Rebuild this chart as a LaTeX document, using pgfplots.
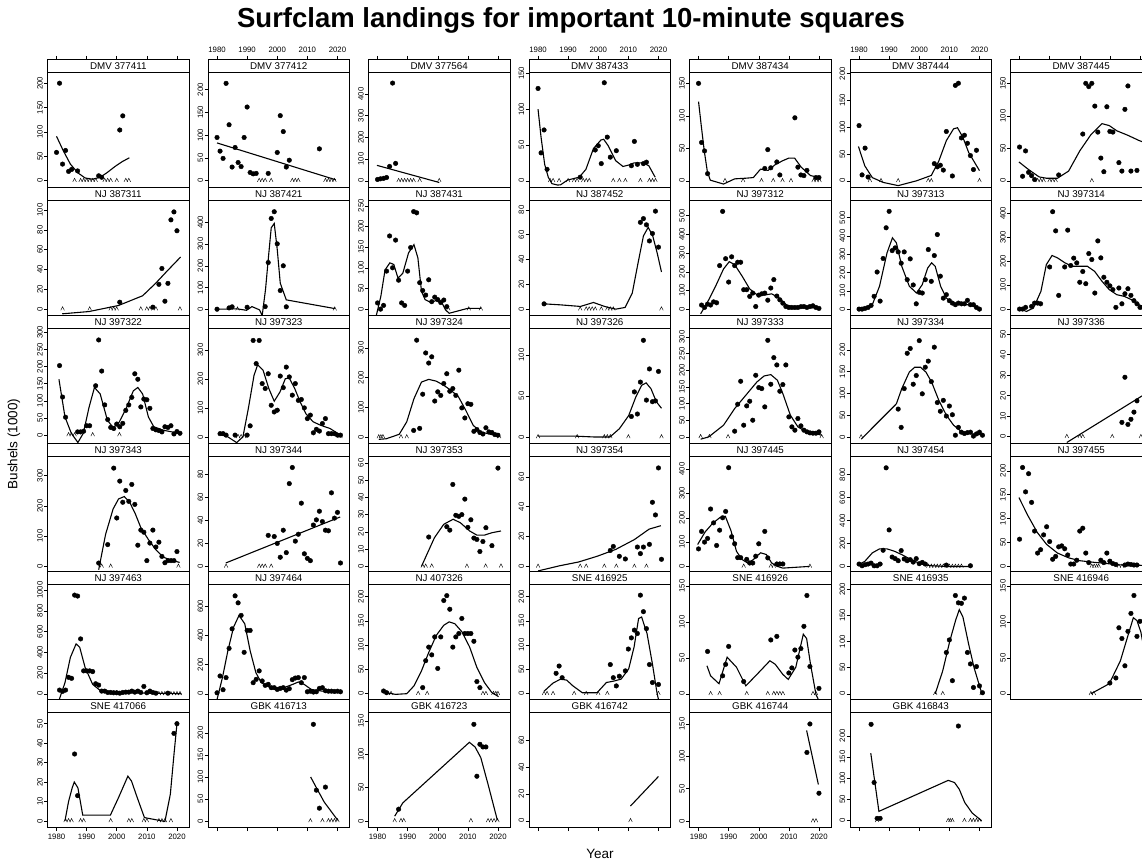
\documentclass[border=0pt]{standalone}
\usepackage{fontspec}
\setmainfont{Liberation Sans}
\usepackage{pgfplots}
\pgfplotsset{compat=1.18}
\pgfdeclareplotmark{caret}{\pgfpathmoveto{\pgfqpoint{-1.8pt}{-1.2pt}}\pgfpathlineto{\pgfqpoint{0pt}{2.4pt}}\pgfpathlineto{\pgfqpoint{1.8pt}{-1.2pt}}\pgfusepathqstroke}
\newcommand\tk{\fontsize{7.8}{9}\selectfont}
\newcommand\stf{\fontsize{9.8}{11}\selectfont}
\newcommand\pos[2]{\pgfmathsetmacro\px{47.5+160.5*(#1-1)}\pgfmathsetmacro\py{-(72+128*(#2-1))}\pgfmathsetmacro\sy{-(59.5+128*(#2-1))}}
\pgfplotsset{
 base/.style={scale only axis, width=141.5pt, xmin=1977, xmax=2024, anchor=north west,
   axis line style={line width=0.6pt}, tick style={line width=0.5pt, black}, major tick length=3.5pt,
   tick align=outside, scaled ticks=false, /pgf/number format/assume math mode=true,
   /pgf/number format/set thousands separator={}, tick label style={font=\tk}, xtick=\empty, ytick=\empty},
 pan/.style={base, height=115.5pt, at={(\px pt,\py pt)}, ytick pos=left, yticklabel style={rotate=90, anchor=south, inner sep=1pt}},
 strip/.style={base, height=12.5pt, at={(\px pt,\sy pt)}, ymin=0, ymax=1},
 xb/.style={xtick={1980,1990,2000,2010,2020}, xtick pos=left, xticklabel pos=left},
 xbn/.style={xb, xticklabels={}},
 xt/.style={xtick={1980,1990,2000,2010,2020}, xtick pos=right, xticklabel pos=right},
 xtn/.style={xt, xticklabels={}},
 pts/.style={only marks, mark=*, mark size=2.3pt, black},
 fit/.style={black, line width=1.1pt, mark=none},
 car/.style={only marks, mark=caret, black, mark options={line width=0.45pt}},
}
\newcommand\strip[4]{\pos{#1}{#2}\begin{axis}[strip,#4]\node[font=\stf,inner sep=0pt] at (rel axis cs:0.5,0.5) {#3};\end{axis}}
\begin{document}
\begin{tikzpicture}
\path[use as bounding box] (0pt,0pt) rectangle (1142pt,-864pt);
\clip (0pt,0pt) rectangle (1142pt,-864pt);
\node[font=\fontsize{27.5}{30}\selectfont\bfseries] at (571pt,-20pt) {Surfclam landings for important 10-minute squares};
\node[rotate=90,font=\fontsize{13.5}{15}\selectfont] at (14pt,-444pt) {Bushels (1000)};
\node[font=\fontsize{13.5}{15}\selectfont] at (600pt,-854pt) {Year};
% ---------- row 1
\pos{1}{1}
\begin{axis}[pan,ymin=-14,ymax=223,ytick={0,50,100,150,200}]
\addplot[fit] coordinates {(1980,91)(1982.2,62)(1984.6,34)(1987.1,16)(1989.5,5.5)(1992,3)(1994.5,7)(1996.9,17)(1999.4,29)(2001.8,39)(2004.2,47)};
\addplot[pts] coordinates {(1980,58)(1981,200)(1982,34)(1983,62)(1984,19)(1985,23)(1987,20)(1994,10)(1995,7)(2001,104)(2002,133)};
\addplot[car] coordinates {(1986,0)(1988,0)(1989,0)(1990,0)(1991,0)(1992,0)(1993,0)(1996,0)(1997,0)(1998,0)(2000,0)(2003,0)(2004,0)};
\end{axis}
\strip{1}{1}{DMV 377411}{xtn}
\pos{2}{1}
\begin{axis}[pan,ymin=-15,ymax=239,ytick={0,50,100,150,200}]
\addplot[fit] coordinates {(1980,83)(2019.4,2)};
\addplot[pts] coordinates {(1980,95)(1981,65)(1982,49)(1983,214)(1984,123)(1985,30)(1986,73)(1987,40)(1988,31)(1989,95)(1990,162)(1991,18)(1992,15)(1993,16)(1997,16)(2000,62)(2001,143)(2002,108)(2003,30)(2004,45)(2014,70)};
\addplot[car] coordinates {(1994,0)(1995,0)(1996,0)(1998,0)(2005,0)(2006,0)(2007,0)(2016,0)(2017,0)(2018,0)(2019,0)};
\end{axis}
\strip{2}{1}{DMV 377412}{xt}
\pos{3}{1}
\begin{axis}[pan,ymin=-31,ymax=501,ytick={0,100,200,300,400}]
\addplot[fit] coordinates {(1979.8,71)(2000.5,-8)};
\addplot[pts] coordinates {(1980,6)(1981,9)(1982,11)(1983,15)(1984,66)(1985,450)(1986,80)};
\addplot[car] coordinates {(1987,0)(1988,0)(1989,0)(1990,0)(1991,0)(1992,0)(1994,0)(2000.5,0)};
\end{axis}
\strip{3}{1}{DMV 377564}{xtn}
\pos{4}{1}
\begin{axis}[pan,ymin=-9.4,ymax=152,ytick={0,50,100,150}]
\addplot[fit] coordinates {(1980,100)(1981,61)(1982.2,23)(1983.4,5)(1984.6,-4)(1986.5,-6)(1987.5,-5.6)(1989.8,1)(1993.7,5)(1995.9,16)(1998.4,45)(2000.9,57)(2001.8,58)(2003.3,49)(2005.8,28)(2008.2,20)(2010.1,22)(2011.9,25)(2015,25)(2016.8,21)(2018.9,5)};
\addplot[pts] coordinates {(1980,129)(1981,39)(1982,71)(1983,16)(1994,5)(1999,43)(2000,49)(2001,24)(2002,137)(2003,61)(2004,33)(2006,42)(2011,21)(2012,55)(2013,23)(2015,24)(2016,26)};
\addplot[car] coordinates {(1984,0)(1985,0)(1987,0)(1990,0)(1992,0)(1993,0)(1995,0)(1996,0)(1997,0)(2005,0)(2007,0)(2009,0)(2014,0)(2017,0)(2018,0)(2019,0)};
\end{axis}
\strip{4}{1}{DMV 387433}{xt}
\pos{5}{1}
\begin{axis}[pan,ymin=-10.3,ymax=167.5,ytick={0,50,100,150}]
\addplot[fit] coordinates {(1980,122)(1980.9,85)(1981.9,46)(1982.9,15)(1983.9,1)(1988.3,-5)(1992,3)(1995.7,4)(1998.2,5)(2000.6,18)(2003.1,16)(2005.5,25)(2008,31)(2010,35)(2011.9,35)(2014.1,21)(2017.2,8)(2020.3,5)};
\addplot[pts] coordinates {(1980,150)(1981,59)(1982,46)(1983,11)(2002,19)(2003,48)(2004,20)(2006,29)(2007,9)(2012,97)(2013,21)(2014,9)(2015,8)(2016,16)(2019,5)(2020,5)};
\addplot[car] coordinates {(1988.8,0)(1994.8,0)(2000.9,0)(2004.8,0)(2007.9,0)(2010.7,0)(2018.2,0)(2019.2,0)(2020.2,0)};
\end{axis}
\strip{5}{1}{DMV 387434}{xtn}
\pos{6}{1}
\begin{axis}[pan,ymin=-12.5,ymax=203,ytick={0,50,100,150,200}]
\addplot[fit] coordinates {(1979.8,64)(1981.9,28)(1984.4,6)(1988,-3)(1993,-9)(1999.1,0)(2004,10)(2006.5,37)(2009,75)(2011.4,97)(2012.7,99)(2014.5,81)(2016.4,53)(2020,19)};
\addplot[pts] coordinates {(1980,103)(1981,11)(1982,61)(1983,7)(2005,32)(2006,26)(2007,29)(2008,20)(2009,92)(2011,9)(2012,178)(2013,182)(2014,80)(2015,85)(2016,70)(2017,47)(2018,21)(2019,57)};
\addplot[car] coordinates {(1983.6,0)(1987.3,0)(1993,0)(2003,0)(2004,0)(2020,0)};
\end{axis}
\strip{6}{1}{DMV 387444}{xt}
\pos{7}{1}
\begin{axis}[pan,ymin=-10.3,ymax=167.5,ytick={0,50,100,150}]
\addplot[fit] coordinates {(1979.8,29)(1982.8,18)(1986.5,6)(1988.9,4)(1992.6,4)(1996.3,15)(2000,46)(2003.7,71)(2007.4,88)(2009.8,85)(2012.3,77)(2016,70)(2019.7,62)(2022,58)};
\addplot[pts] coordinates {(1980,52)(1981,7)(1982,46)(1983,13)(1984,8)(1985,2)(1993,9)(2001,72)(2002,150)(2003,145)(2004,150)(2005,115)(2006,75)(2007,35)(2008,14)(2009,114)(2010,76)(2011,75)(2013,28)(2014,15)(2015,110)(2016,146)(2017,15)(2019,16)};
\addplot[car] coordinates {(1986,0)(1987,0)(1988,0)(1990,0)(1991,0)(1992,0)(2004,0)};
\end{axis}
\strip{7}{1}{DMV 387445}{xtn}
% ---------- row 2
\pos{1}{2}
\begin{axis}[pan,ymin=-6.4,ymax=110,ytick={0,20,40,60,80,100}]
\addplot[fit] coordinates {(1981.9,-4.7)(1990.8,-2.4)(2000.6,3.7)(2008.6,13.5)(2012.9,26)(2016.6,38)(2021.2,52.5)};
\addplot[pts] coordinates {(2001,7)(2012,2)(2014,25)(2015,41)(2016,8)(2017,26)(2018,90)(2019,98)(2020,79)};
\addplot[car] coordinates {(1982,0)(1991,0)(1998,0)(1999,0)(2000,0)(2008,0)(2010,0)(2011,0)(2013,0)(2021,0)};
\end{axis}
\strip{1}{2}{NJ 387311}{}
\pos{2}{2}
\begin{axis}[pan,ymin=-29,ymax=503,ytick={0,100,200,300,400}]
\addplot[fit] coordinates {(1980,0)(1986.7,1.5)(1989.8,-5)(1991.6,12)(1994.1,-3)(1995,-29)(1996.1,90)(1997,228)(1998,375)(1999,395)(2000,275)(2001,120)(2003,43)(2019.1,3)};
\addplot[pts] coordinates {(1980,0)(1984,6)(1985,11)(1990,9)(1996,12)(1997,215)(1998,418)(1999,449)(2000,301)(2001,86)(2002,200)(2003,11)};
\addplot[car] coordinates {(1986.8,0)(2019.1,0)};
\end{axis}
\strip{2}{2}{NJ 387421}{}
\pos{3}{2}
\begin{axis}[pan,ymin=-15.4,ymax=264,ytick={0,50,100,150,200,250}]
\addplot[fit] coordinates {(1979.6,-15)(1981.1,31)(1982.5,95)(1984.1,112)(1985.4,108)(1986.8,75)(1988.4,87)(1990.3,136)(1992.1,156)(1993.4,124)(1994.6,43)(1995.8,23)(1997.7,16)(1999.5,21)(2001.4,15)(2002.6,-2)(2003.8,-10)(2010,2)(2014.3,2)};
\addplot[pts] coordinates {(1980,15)(1981,0)(1982,9)(1983,92)(1984,177)(1985,100)(1986,167)(1987,70)(1988,15)(1989,9)(1990,92)(1991,149)(1992,236)(1993,233)(1994,64)(1995,45)(1996,34)(1997,71)(1998,18)(1999,29)(2000,23)(2001,16)(2002,22)(2003,6)};
\addplot[car] coordinates {(2003.5,0)(2010.3,0)(2014.3,0)};
\end{axis}
\strip{3}{2}{NJ 387431}{}
\pos{4}{2}
\begin{axis}[pan,ymin=-5.1,ymax=88,ytick={0,20,40,60,80}]
\addplot[fit] coordinates {(1981.9,4.3)(1987.3,3.5)(1994.1,2.2)(1998.4,5.4)(2002.1,2.2)(2005.8,0)(2008.9,1.4)(2011.3,13)(2013.2,37)(2015,59)(2016.6,66)(2018.1,59)(2019.6,45)(2021,30)};
\addplot[pts] coordinates {(1982,4.3)(2014,70)(2015,73)(2016,68)(2017,55)(2018,61)(2019,79)(2020,50)};
\addplot[car] coordinates {(1994,0)(1996,0)(1997,0)(1998,0)(1999,0)(2001,0)(2003,0)(2004,0)(2005,0)(2021,0)};
\end{axis}
\strip{4}{2}{NJ 387452}{}
\pos{5}{2}
\begin{axis}[pan,ymin=-34,ymax=584,ytick={0,100,200,300,400,500}]
\addplot[fit] coordinates {(1980.7,-25)(1983.4,50)(1985.9,131)(1988.3,215)(1990.2,254)(1992,238)(1994.5,176)(1997,108)(1999.4,77)(2001.8,75)(2004.3,82)(2006.8,59)(2009.2,23)(2011.7,11)(2015.4,7)(2020,7)};
\addplot[pts] coordinates {(1981,22)(1982,9)(1983,27)(1984,22)(1985,39)(1986,34)(1987,233)(1988,523)(1989,270)(1990,145)(1991,280)(1992,233)(1993,251)(1994,251)(1995,104)(1996,104)(1997,68)(1998,86)(1999,14)(2000,75)(2001,82)(2002,86)(2003,48)(2004,113)(2005,158)(2006,70)(2007,50)(2008,32)(2009,14)(2010,9)(2011,9)(2012,9)(2013,9)(2014,13)(2015,14)(2016,9)(2017,14)(2018,18)(2019,9)(2020,4)};
\end{axis}
\strip{5}{2}{NJ 397312}{}
\pos{6}{2}
\begin{axis}[pan,ymin=-35,ymax=597,ytick={0,100,200,300,400,500}]
\addplot[fit] coordinates {(1980.8,0)(1984.4,24)(1986.8,125)(1989.3,308)(1991.1,390)(1992.4,363)(1994.2,234)(1996.7,125)(1999.1,88)(2001,134)(2002.8,225)(2004.1,253)(2005.3,234)(2007.1,125)(2009,60)(2011.4,33)(2013.9,24)(2016.4,24)(2020.2,5)};
\addplot[pts] coordinates {(1980,0)(1981,0)(1982,4)(1983,9)(1984,20)(1985,70)(1986,203)(1987,44)(1988,277)(1989,445)(1990,535)(1991,320)(1992,335)(1993,313)(1994,251)(1995,313)(1996,161)(1997,275)(1998,132)(1999,29)(2000,92)(2001,88)(2002,161)(2003,326)(2004,152)(2005,293)(2006,408)(2007,180)(2008,60)(2009,79)(2010,46)(2011,33)(2012,24)(2013,33)(2014,29)(2015,29)(2016,48)(2017,24)(2018,24)(2019,9)(2020,0)};
\end{axis}
\strip{6}{2}{NJ 397313}{}
\pos{7}{2}
\begin{axis}[pan,ymin=-27,ymax=456,ytick={0,100,200,300,400}]
\addplot[fit] coordinates {(1980.3,0)(1982.3,-10)(1984.6,4)(1987.1,74)(1988.9,186)(1990.8,224)(1992.6,214)(1995.1,193)(1997.5,179)(2000,179)(2002.5,179)(2004.9,158)(2007.4,116)(2009.8,81)(2012.3,60)(2014.8,53)(2017.2,39)(2019.7,18)(2022,5)};
\addplot[pts] coordinates {(1980,0)(1981,0)(1982,7)(1984,11)(1985,25)(1986,25)(1987,22)(1990,176)(1991,407)(1992,327)(1993,57)(1995,176)(1996,330)(1997,182)(1998,213)(1999,193)(2000,112)(2001,157)(2002,106)(2003,232)(2004,207)(2005,67)(2006,285)(2007,214)(2008,133)(2009,112)(2010,97)(2011,81)(2012,7)(2013,88)(2014,22)(2015,64)(2016,85)(2017,57)(2018,35)(2019,22)(2020,7)(2021,7)};
\end{axis}
\strip{7}{2}{NJ 397314}{}
% ---------- row 3
\pos{1}{3}
\begin{axis}[pan,ymin=-25,ymax=313,ytick={0,50,100,150,200,250,300}]
\addplot[fit] coordinates {(1980.8,163)(1982.8,53)(1984.9,5)(1987.1,-22)(1988.9,5)(1990.8,81)(1992.6,139)(1994.5,120)(1996.9,43)(1998.8,22)(2000.6,34)(2003.1,77)(2005.5,129)(2007,139)(2008.6,120)(2010.5,53)(2012.3,24)(2015.4,14)(2020.6,5)};
\addplot[pts] coordinates {(1981,203)(1982,111)(1983,52)(1987,9)(1988,9)(1989,11)(1990,27)(1991,27)(1993,144)(1994,278)(1995,187)(1996,88)(1997,45)(1998,22)(1999,19)(2000,32)(2001,24)(2002,34)(2003,72)(2004,88)(2005,110)(2006,179)(2007,163)(2008,82)(2009,105)(2010,103)(2011,78)(2012,19)(2013,15)(2014,13)(2015,9)(2016,24)(2017,22)(2018,27)(2019,3)(2020,10)(2021,5)};
\addplot[car] coordinates {(1984,0)(1985,0)(1986,0)(1992,0)(2000.9,0)};
\end{axis}
\strip{1}{3}{NJ 397322}{}
\pos{2}{3}
\begin{axis}[pan,ymin=-23,ymax=376,ytick={0,100,200,300}]
\addplot[fit] coordinates {(1980.9,9)(1983.6,0)(1986.5,-20)(1988.6,0)(1990.4,98)(1992.3,213)(1993.5,249)(1995.3,230)(1997.2,167)(1999,123)(2000.9,155)(2002.7,201)(2004,203)(2005.8,167)(2007.6,121)(2009.5,80)(2011.9,52)(2014.4,40)(2017.5,29)(2020.7,8)};
\addplot[pts] coordinates {(1981,11)(1982,11)(1983,6)(1986,6)(1990,6)(1991,38)(1992,333)(1993,253)(1994,333)(1995,184)(1996,167)(1997,218)(1998,109)(1999,86)(2000,92)(2001,210)(2002,170)(2003,241)(2004,207)(2005,144)(2006,184)(2007,126)(2008,129)(2009,100)(2010,63)(2011,75)(2012,14)(2013,26)(2014,20)(2015,46)(2016,63)(2017,11)(2018,11)(2019,11)(2020,6)(2021,6)};
\addplot[car] coordinates {(1987,0)(1988,0)(1989,0)(2021,0)};
\end{axis}
\strip{2}{3}{NJ 397323}{}
\pos{3}{3}
\begin{axis}[pan,ymin=-22,ymax=367,ytick={0,100,200,300}]
\addplot[fit] coordinates {(1980.4,-8)(1982.9,-6)(1987.2,9)(1989.7,51)(1992.1,129)(1994.6,185)(1997,194)(1999.5,188)(2002,174)(2004.4,157)(2006.9,135)(2009.3,90)(2011.8,39)(2014.3,17)(2016.7,11)(2020.4,2)};
\addplot[pts] coordinates {(1992,22)(1993,326)(1994,29)(1995,144)(1996,283)(1997,249)(1998,270)(1999,121)(2000,152)(2001,140)(2002,180)(2003,213)(2004,154)(2005,163)(2006,140)(2007,225)(2008,98)(2009,64)(2010,112)(2011,110)(2012,19)(2013,25)(2014,15)(2015,10)(2016,31)(2017,17)(2018,15)(2019,8)(2020,6)};
\addplot[car] coordinates {(1980.4,0)(1981.1,0)(1981.8,0)(1987.8,0)(1989.7,0)(2020.4,0)};
\end{axis}
\strip{3}{3}{NJ 397324}{}
\pos{4}{3}
\begin{axis}[pan,ymin=-8,ymax=133,ytick={0,50,100}]
\addplot[fit] coordinates {(1980,1)(1987.3,1)(1992.2,1)(1998.4,0)(2003.9,0)(2007,10)(2010.1,26)(2012.5,49)(2014.4,63)(2015.9,66)(2017.5,59)(2019.3,43)(2021,35)};
\addplot[pts] coordinates {(2011,25)(2012,55)(2013,28)(2014,67)(2015,118)(2016,45)(2017,83)(2018,43)(2019,44)(2020,80)};
\addplot[car] coordinates {(1980,0)(1993,0)(2002,0)(2003,0)(2004,0)(2010,0)(2021,0)};
\end{axis}
\strip{4}{3}{NJ 397326}{}
\pos{5}{3}
\begin{axis}[pan,ymin=-20,ymax=327,ytick={0,50,100,150,200,250,300}]
\addplot[fit] coordinates {(1980.7,-7)(1983.4,0)(1988.3,35)(1992,85)(1995.7,125)(1999.4,165)(2001.8,183)(2004,187)(2006.2,170)(2008,130)(2010.5,65)(2013,30)(2015.4,17)(2017.8,12)(2020.9,5)};
\addplot[pts] coordinates {(1992,17)(1993,98)(1994,167)(1995,35)(1996,93)(1997,107)(1998,50)(1999,185)(2000,148)(2001,145)(2002,90)(2003,290)(2004,158)(2005,238)(2006,216)(2007,137)(2008,157)(2009,216)(2010,60)(2011,30)(2012,20)(2013,55)(2014,33)(2015,20)(2016,15)(2017,12)(2018,11)(2019,11)(2020,15)};
\addplot[car] coordinates {(1980.7,0)(1983.6,0)(1989.8,0)(2020.9,0)};
\end{axis}
\strip{5}{3}{NJ 397333}{}
\pos{6}{3}
\begin{axis}[pan,ymin=-15,ymax=250,ytick={0,50,100,150,200}]
\addplot[fit] coordinates {(1980.7,-5)(1992.4,76)(1994.2,111)(1996.7,149)(1998.5,160)(2000.4,160)(2002.2,149)(2004.1,126)(2006.5,84)(2009,50)(2011.4,27)(2013.9,13)(2016.4,8)(2020.5,5)};
\addplot[pts] coordinates {(1993,64)(1994,22)(1995,111)(1996,192)(1997,203)(1998,121)(1999,141)(2000,221)(2001,99)(2002,160)(2003,174)(2004,127)(2005,206)(2006,79)(2007,59)(2008,84)(2009,48)(2010,71)(2011,51)(2012,4)(2013,22)(2014,11)(2015,8)(2016,10)(2017,11)(2018,2)(2019,7)(2020,11)(2021,4)};
\addplot[car] coordinates {(1980.7,0)};
\end{axis}
\strip{6}{3}{NJ 397334}{}
\pos{7}{3}
\begin{axis}[pan,ymin=-3.3,ymax=53,ytick={0,10,20,30,40,50}]
\addplot[fit] coordinates {(1995.7,-2.8)(2023,22)};
\addplot[pts] coordinates {(2014,7)(2015,29)(2016,6)(2017,8.5)(2018,12)(2019,17.5)};
\addplot[car] coordinates {(1995.7,0)(2000,0)(2001,0)(2010.8,0)(2020.3,0)};
\end{axis}
\strip{7}{3}{NJ 397336}{}
% ---------- row 4
\pos{1}{4}
\begin{axis}[pan,ymin=-17,ymax=365,ytick={0,100,200,300}]
\addplot[fit] coordinates {(1994,-11)(1996.3,106)(1998.8,190)(2000.6,223)(2002.5,231)(2004.3,212)(2006.2,173)(2008,128)(2010.5,89)(2012.9,56)(2015.4,31)(2017.8,21)(2020.9,13)};
\addplot[pts] coordinates {(1994,11)(1997,72)(1999,325)(2000,160)(2001,282)(2002,212)(2003,251)(2004,215)(2005,271)(2006,205)(2007,70)(2008,120)(2009,113)(2010,19)(2011,77)(2012,120)(2013,64)(2014,80)(2015,33)(2016,12)(2017,19)(2018,19)(2019,19)(2020,49)};
\addplot[car] coordinates {(1995,0)(1998,0)(2020.5,0)};
\end{axis}
\strip{1}{4}{NJ 397343}{}
\pos{2}{4}
\begin{axis}[pan,ymin=-4.4,ymax=96,ytick={0,20,40,60,80}]
\addplot[fit] coordinates {(1982.9,3)(2020.9,43)};
\addplot[pts] coordinates {(1997,27)(1999,26)(2000,20)(2001,8)(2002,31.5)(2003,12)(2004,72)(2005,86)(2006,22)(2007,28)(2008,55)(2009,11)(2010,7)(2011,5)(2012,36)(2013,40.5)(2014,48)(2015,39)(2016,31.5)(2017,31)(2018,64)(2019,42)(2020,47)(2021,3)};
\addplot[car] coordinates {(1983,0)(1994,0)(1995,0)(1996,0)(1998,0)};
\end{axis}
\strip{2}{4}{NJ 397344}{}
\pos{3}{4}
\begin{axis}[pan,ymin=-3,ymax=64,ytick={0,10,20,30,40,50,60}]
\addplot[fit] coordinates {(1994.6,0)(1998.9,16.6)(2002,24.4)(2005.1,27.3)(2007.5,25.3)(2010.6,20.5)(2013,18.1)(2015.5,18.1)(2018,19.5)(2021,20.5)};
\addplot[pts] coordinates {(1997,17)(2003,23)(2004,21)(2005,47.5)(2006,29.6)(2007,29)(2008,30)(2009,39)(2010,22.6)(2011,27)(2012,16.4)(2013,15.6)(2014,8.6)(2015,14.4)(2016,22.4)(2018,12)(2020,57)};
\addplot[car] coordinates {(1995,0)(1996,0)(1998,0)(2009.7,0)(2015.9,0)(2021,0)};
\end{axis}
\strip{3}{4}{NJ 397353}{}
\pos{4}{4}
\begin{axis}[pan,ymin=-3.4,ymax=74,ytick={0,20,40,60}]
\addplot[fit] coordinates {(1980,-3)(1987.3,0.5)(1993.5,3)(1999.6,6.8)(2005.8,11.4)(2012,18)(2016.9,25)(2020.8,27.3)};
\addplot[pts] coordinates {(2004,10.7)(2005,13.4)(2007,6.8)(2009,5)(2013,13)(2014,8.6)(2015,13)(2017,14.8)(2018,43)(2019,34.5)(2020,66)(2021,4.8)};
\addplot[car] coordinates {(1980,0)(1994,0)(1996,0)(2002,0)(2006,0)(2012,0)(2016,0)};
\end{axis}
\strip{4}{4}{NJ 397354}{}
\pos{5}{4}
\begin{axis}[pan,ymin=-21,ymax=454,ytick={0,100,200,300,400}]
\addplot[fit] coordinates {(1979.7,90)(1982.2,142)(1984.6,176)(1987.1,201)(1988.9,206)(1990.8,146)(1992.6,62)(1994.5,28)(1996.3,14)(1998.2,28)(2000.6,56)(2002.5,49)(2004.3,14)(2006.2,0)(2008,-7)(2016.9,0)};
\addplot[pts] coordinates {(1980,72)(1981,144)(1982,100)(1983,115)(1984,236)(1985,179)(1986,86)(1987,149)(1988,200)(1989,226)(1990,406)(1991,122)(1992,93)(1993,36)(1994,36)(1996,29)(1997,14)(1998,14)(1999,42)(2000,93)(2002,144)(2003,35)(2006,10)(2007,10)(2008,10)};
\addplot[car] coordinates {(1995,0)(2004,0)(2005,0)(2017,0)};
\end{axis}
\strip{5}{4}{NJ 397445}{}
\pos{6}{4}
\begin{axis}[pan,ymin=-44,ymax=962,ytick={0,200,400,600,800}]
\addplot[fit] coordinates {(1979.8,15)(1981.9,44)(1984.4,118)(1986.8,153)(1989.3,153)(1991.8,132)(1994.2,103)(1996.7,68)(1999.1,38)(2001.6,15)(2004.1,6)(2009,0)(2016.9,0)};
\addplot[pts] coordinates {(1980,21)(1981,6)(1982,15)(1983,21)(1984,29)(1985,6)(1986,6)(1987,21)(1988,141)(1989,859)(1990,318)(1991,82)(1992,68)(1993,50)(1994,138)(1995,65)(1996,50)(1997,59)(1998,38)(1999,68)(2000,24)(2001,35)(2002,21)(2009,12)(2017,6)};
\addplot[car] coordinates {(2003,0)(2004,0)(2005,0)(2006,0)(2007,0)(2008,0)(2010,0)(2011,0)(2012,0)(2013,0)(2014,0)};
\end{axis}
\strip{6}{4}{NJ 397454}{}
\pos{7}{4}
\begin{axis}[pan,ymin=-10.6,ymax=231,ytick={0,50,100,150,200}]
\addplot[fit] coordinates {(1979.8,144)(1982.8,106)(1985.9,71)(1989,46)(1992.6,28)(1996.3,18)(2000,12)(2004.9,8.5)(2008.6,6.4)(2012.3,3.5)(2017.2,3)(2022,2)};
\addplot[pts] coordinates {(1980,57)(1981,207)(1982,156)(1983,194)(1984,134)(1985,74)(1986,28)(1987,35)(1988,66)(1989,83)(1990,52)(1991,15)(1992,21)(1993,41)(1994,43)(1995,37)(1996,24)(1997,5)(1998,5)(1999,13)(2000,74)(2001,80)(2002,28)(2003,8)(2007,13)(2008,8)(2009,28)(2010,11)(2011,6)(2012,4)(2015,3)(2016,5)(2017,4)(2018,3)(2019,3)};
\addplot[car] coordinates {(2004,0)(2004.8,0)(2005.6,0)(2006.3,0)(2013,0)(2014,0)};
\end{axis}
\strip{7}{4}{NJ 397455}{}
% ---------- row 5
\pos{1}{5}
\begin{axis}[pan,ymin=-55,ymax=1058,ytick={0,200,400,600,800,1000}]
\addplot[fit] coordinates {(1980.9,-55)(1982.8,107)(1984.6,351)(1986.5,481)(1987.7,448)(1989.5,253)(1992,91)(1994.5,32)(1998.2,13)(2004.3,10)(2010.5,6)(2021.5,0)};
\addplot[pts] coordinates {(1981,36)(1982,23)(1983,36)(1984,159)(1985,149)(1986,951)(1987,942)(1988,529)(1989,221)(1990,221)(1991,221)(1992,214)(1993,97)(1994,84)(1995,26)(1996,26)(1997,13)(1998,13)(1999,10)(2000,10)(2001,6)(2002,13)(2003,16)(2004,16)(2005,26)(2006,16)(2007,26)(2008,13)(2009,71)(2010,10)(2011,26)(2012,13)(2013,6)(2017,6)};
\addplot[car] coordinates {(2014,0)(2015,0)(2016,0)(2018,0)(2019,0)(2020,0)(2021,0)};
\end{axis}
\strip{1}{5}{NJ 397463}{}
\pos{2}{5}
\begin{axis}[pan,ymin=-39,ymax=752,ytick={0,200,400,600}]
\addplot[fit] coordinates {(1980,-39)(1981.8,111)(1983.6,295)(1985.5,457)(1987.3,537)(1989.2,480)(1991,295)(1992.9,145)(1994.7,76)(1997.2,48)(2001.5,37)(2005.2,65)(2007,81)(2008.9,65)(2011.3,30)(2015,18)(2020.4,14)};
\addplot[pts] coordinates {(1980,7)(1981,122)(1982,28)(1983,111)(1984,311)(1985,445)(1986,671)(1987,623)(1988,537)(1989,284)(1990,434)(1991,434)(1992,76)(1993,99)(1994,157)(1995,88)(1996,58)(1997,65)(1998,42)(1999,42)(2000,30)(2001,37)(2002,42)(2003,25)(2004,35)(2005,97)(2006,108)(2007,111)(2008,76)(2009,111)(2010,14)(2011,18)(2012,12)(2013,14)(2014,37)(2015,42)(2016,21)(2017,18)(2018,18)(2019,16)(2020,18)(2021,14)};
\end{axis}
\strip{2}{5}{NJ 397464}{}
\pos{3}{5}
\begin{axis}[pan,ymin=-12,ymax=226,ytick={0,50,100,150,200}]
\addplot[fit] coordinates {(1981.6,3.5)(1986,-1.4)(1989.7,0)(1992.1,16)(1994.6,47)(1997,85)(1999.5,120)(2002,141)(2003.8,148)(2005.7,144)(2008.1,127)(2010.6,96)(2013,54)(2015.5,23)(2018,2)(2020.2,-6)};
\addplot[pts] coordinates {(1982,5.5)(1983,2)(1995,12.5)(1996,68)(1997,96)(1998,80)(1999,117)(2000,52)(2001,117)(2002,192)(2003,202)(2004,174)(2005,96)(2006,117)(2007,124)(2008,155)(2009,124)(2010,124)(2011,124)(2012,108)(2013,25)(2014,12.5)};
\addplot[car] coordinates {(1983.5,0)(1984.5,0)(1993.5,0)(1996.5,0)(2015,0)(2016,0)(2018.5,0)(2019.3,0)(2020,0)};
\end{axis}
\strip{3}{5}{NJ 407326}{}
\pos{4}{5}
\begin{axis}[pan,ymin=-12,ymax=226,ytick={0,50,100,150,200}]
\addplot[fit] coordinates {(1982,5)(1985,22)(1987.5,30)(1989.5,28)(1991.6,16)(1994.7,2)(1999.6,2)(2002.7,23)(2005.2,26)(2007.6,30)(2010.1,51)(2011.9,96)(2013.4,155)(2014.4,158)(2016.2,124)(2018,61)(2019.5,2)(2020,-12)};
\addplot[pts] coordinates {(1986,42)(1987,57)(1988,33)(2004,60)(2005,33)(2006,16)(2007,36)(2009,47)(2010,92)(2011,115)(2012,131)(2013,124)(2014,203)(2015,169)(2016,134)(2017,60)(2018,23)(2020,19)};
\addplot[car] coordinates {(1982,0)(1983,0)(1985,0)(1992,0)(1996,0)(2000,0)(2003,0)(2020,0)};
\end{axis}
\strip{4}{5}{SNE 416925}{}
\pos{5}{5}
\begin{axis}[pan,ymin=-8,ymax=153,ytick={0,50,100,150}]
\addplot[fit] coordinates {(1982.8,39)(1984,25)(1986.8,14)(1989.5,51)(1992.6,37)(1995.7,11)(1999.4,27)(2003.7,46)(2005.5,41)(2008,27)(2009.8,20)(2012.3,37)(2014.8,83)(2015.9,77)(2017.2,41)(2019,-1)(2019.8,-8)};
\addplot[pts] coordinates {(1983,59)(1988,25)(1989,41)(1990,66)(1995,17)(2004,75)(2006,80)(2010,29)(2011,36)(2012,61)(2013,51)(2014,63)(2015,94)(2016,137)(2017,38)(2020,7.5)};
\addplot[car] coordinates {(1984,0)(1987,0)(1996,0)(2003,0)(2005,0)(2006,0)(2007,0)(2008,0)(2018,0)(2019,0)};
\end{axis}
\strip{5}{5}{SNE 416926}{}
\pos{6}{5}
\begin{axis}[pan,ymin=-11,ymax=210,ytick={0,50,100,150,200}]
\addplot[fit] coordinates {(2005.3,0)(2007.8,44)(2010.2,102)(2012.1,141)(2013.3,161)(2014.5,147)(2016.4,95)(2018.2,50)(2020.7,2)};
\addplot[pts] coordinates {(2009,79)(2010,103)(2011,25)(2012,188)(2013,174)(2014,173)(2015,183)(2016,79)(2017,57)(2018,12)(2019,52)(2020,15)(2021,2)};
\addplot[car] coordinates {(2005.3,0)(2007.8,0)(2020.7,0)};
\end{axis}
\strip{6}{5}{SNE 416935}{}
\pos{7}{5}
\begin{axis}[pan,ymin=-8,ymax=153,ytick={0,50,100,150}]
\addplot[fit] coordinates {(2003.7,0)(2009.8,14)(2013.5,46)(2016,81)(2017.8,106)(2019,102)(2020.3,86)(2021,70)(2022,50)};
\addplot[pts] coordinates {(2010,15)(2012,22)(2013,92)(2014,77)(2015,39)(2016,87)(2017,112)(2018,137)(2019,80)(2020,101)};
\addplot[car] coordinates {(2003.7,0)(2004.7,0)};
\end{axis}
\strip{7}{5}{SNE 416946}{}
% ---------- row 6
\pos{1}{6}
\begin{axis}[pan,xb,ymin=-3.4,ymax=56,ytick={0,10,20,30,40,50}]
\addplot[fit] coordinates {(1982.8,0)(1984,10)(1985.2,17)(1985.9,20)(1987.1,17)(1988.7,3)(1997.9,3)(2000.6,12)(2003.7,23)(2004.9,20.5)(2006.8,12)(2009.2,1.7)(2015,0)(2016,-0.3)(2017.8,13.7)(2019,34)(2020,50)};
\addplot[pts] coordinates {(1986,34.4)(1987,13)(2019,45)(2020,50)};
\addplot[car] coordinates {(1983,0)(1984,0)(1985,0)(1988,0)(1989,0)(1998,0)(2004,0)(2005,0)(2009,0)(2010,0)(2014,0)(2015,0)(2016,0)(2018,0)};
\end{axis}
\strip{1}{6}{SNE 417066}{}
\pos{2}{6}
\begin{axis}[pan,xbn,ymin=-15,ymax=248,ytick={0,50,100,150,200}]
\addplot[fit] coordinates {(2011.1,100)(2013.2,73)(2015.6,43)(2020.1,1.5)};
\addplot[pts] coordinates {(2012,220)(2013,70)(2014,29)(2016,77)};
\addplot[car] coordinates {(2011,0)(2015,0)(2017,0)(2018,0)(2019,0)(2020,0)};
\end{axis}
\strip{2}{6}{GBK 416713}{}
\pos{3}{6}
\begin{axis}[pan,xb,ymin=-10,ymax=163.5,ytick={0,50,100,150}]
\addplot[fit] coordinates {(1985.7,7)(1988.4,27)(2010.5,118)(2012.4,111)(2014.3,95)(2016.7,55)(2019.8,1)};
\addplot[pts] coordinates {(1987,17.5)(2012,145)(2013,67)(2014,115)(2015,111)(2016,111)};
\addplot[car] coordinates {(1985.7,0)(1987.8,0)(1988.7,0)(2011,0)(2016.7,0)(2017.7,0)(2018.7,0)(2019.8,0)};
\end{axis}
\strip{3}{6}{GBK 416723}{}
\pos{4}{6}
\begin{axis}[pan,xbn,ymin=-5,ymax=81,ytick={0,20,40,60}]
\addplot[fit] coordinates {(2010.7,11)(2020,33)};
\addplot[car] coordinates {(2010.7,0)};
\end{axis}
\strip{4}{6}{GBK 416742}{}
\pos{5}{6}
\begin{axis}[pan,xb,ymin=-10,ymax=168.5,ytick={0,50,100,150}]
\addplot[fit] coordinates {(2015.9,140)(2019.8,56.5)};
\addplot[pts] coordinates {(2016,106)(2017,150)(2020,43)};
\addplot[car] coordinates {(2018,0)(2019,0)};
\end{axis}
\strip{5}{6}{GBK 416744}{}
\pos{6}{6}
\begin{axis}[pan,xbn,ymin=-16,ymax=256,ytick={0,50,100,150,200}]
\addplot[fit] coordinates {(1983.9,159)(1986.6,22)(2009.6,95)(2011.7,90)(2013.3,74)(2015.1,43)(2017.6,18)(2020.7,0)};
\addplot[pts] coordinates {(1984,227)(1985,90)(1986,5.5)(1987,5.5)(2013,223)};
\addplot[car] coordinates {(1986,0)(2009.6,0)(2010.3,0)(2011,0)(2015,0)(2017,0)(2018,0)(2019,0)(2020,0)};
\end{axis}
\strip{6}{6}{GBK 416843}{}
\end{tikzpicture}
\end{document}
